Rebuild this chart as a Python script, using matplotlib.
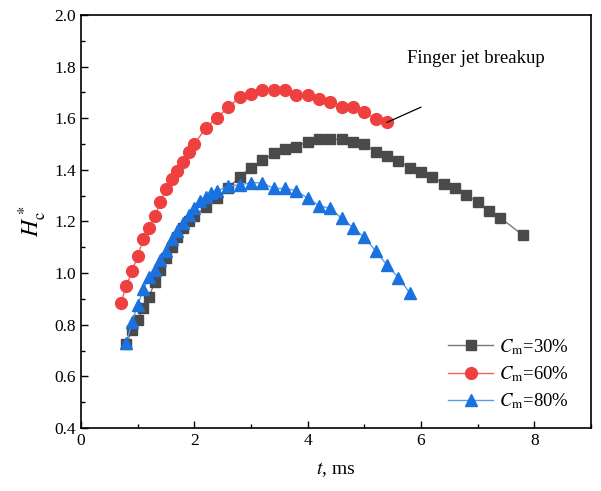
import matplotlib.pyplot as plt
from matplotlib.ticker import MultipleLocator

plt.rcParams['font.family'] = ['Liberation Serif', 'DejaVu Serif']
plt.rcParams['mathtext.fontset'] = 'stix'

# Cm = 30 %
t_30 = [0.8, 0.9, 1.0, 1.1, 1.2, 1.3, 1.4, 1.5, 1.6, 1.7, 1.8, 1.9,
        2.0, 2.2, 2.4, 2.6, 2.8, 3.0, 3.2, 3.4, 3.6, 3.8, 4.0, 4.2, 4.4, 4.6,
        4.8, 5.0, 5.2, 5.4, 5.6, 5.8, 6.0, 6.2, 6.4, 6.6, 6.8, 7.0, 7.2, 7.4,
        7.8]
h_30 = [0.725, 0.779, 0.820, 0.863, 0.908, 0.964, 1.014, 1.057, 1.100, 1.141, 1.175, 1.200,
        1.221, 1.255, 1.290, 1.330, 1.373, 1.408, 1.437, 1.464, 1.482, 1.490, 1.509, 1.518, 1.518, 1.518,
        1.509, 1.499, 1.470, 1.453, 1.435, 1.408, 1.393, 1.373, 1.346, 1.331, 1.303, 1.276, 1.241, 1.214,
        1.147]

# Cm = 60 %
t_60 = [0.7, 0.8, 0.9, 1.0, 1.1, 1.2, 1.3, 1.4, 1.5, 1.6, 1.7, 1.8, 1.9, 2.0,
        2.2, 2.4, 2.6, 2.8, 3.0, 3.2, 3.4, 3.6, 3.8, 4.0, 4.2, 4.4, 4.6, 4.8,
        5.0, 5.2, 5.4]
h_60 = [0.883, 0.950, 1.008, 1.066, 1.134, 1.173, 1.220, 1.275, 1.326, 1.363, 1.394, 1.431, 1.470, 1.499,
        1.563, 1.602, 1.642, 1.681, 1.693, 1.709, 1.709, 1.709, 1.690, 1.690, 1.674, 1.664, 1.642, 1.642,
        1.625, 1.596, 1.584]

# Cm = 80 %
t_80 = [0.8, 0.9, 1.0, 1.1, 1.2, 1.3, 1.4, 1.5, 1.6, 1.7, 1.8, 1.9, 2.0, 2.1, 2.2, 2.3, 2.4,
        2.6, 2.8, 3.0, 3.2, 3.4, 3.6, 3.8, 4.0, 4.2, 4.4, 4.6, 4.8, 5.0, 5.2, 5.4, 5.6, 5.8]
h_80 = [0.730, 0.811, 0.876, 0.937, 0.985, 1.014, 1.050, 1.087, 1.134, 1.162, 1.195, 1.225, 1.251, 1.280, 1.296, 1.309, 1.318,
        1.337, 1.342, 1.350, 1.350, 1.328, 1.328, 1.319, 1.290, 1.261, 1.251, 1.212, 1.176, 1.138, 1.086, 1.031, 0.983, 0.924]

fig = plt.figure(figsize=(6.01, 4.91), dpi=100)
ax = fig.add_axes([0.1348, 0.1283, 0.8486, 0.8412])

ax.plot(t_30, h_30, color='#7a7a7a', lw=1.0, marker='s', ms=7.5,
        mfc='#4a4a4a', mec='#4a4a4a', label=r'$C_\mathrm{m}$=30%')
ax.plot(t_60, h_60, color='#f06060', lw=1.0, marker='o', ms=8.5,
        mfc='#ef4040', mec='#ef4040', label=r'$C_\mathrm{m}$=60%')
ax.plot(t_80, h_80, color='#5a9cec', lw=1.0, marker='^', ms=8.5,
        mfc='#1a72e0', mec='#1a72e0', label=r'$C_\mathrm{m}$=80%')

# breakup marker
ax.annotate('', xy=(t_60[-1], h_60[-1]), xytext=(6.0, 1.643),
            arrowprops=dict(arrowstyle='-', color='black', lw=0.9,
                            shrinkA=0, shrinkB=0))
ax.text(6.97, 1.83, 'Finger jet breakup', fontsize=13.5, ha='center', va='center')

ax.set_xlim(0, 9)
ax.set_ylim(0.4, 2.0)
ax.xaxis.set_major_locator(MultipleLocator(2))
ax.xaxis.set_minor_locator(MultipleLocator(1))
ax.yaxis.set_major_locator(MultipleLocator(0.2))
ax.yaxis.set_minor_locator(MultipleLocator(0.1))
ax.set_xticks([0, 2, 4, 6, 8])
ax.tick_params(which='major', direction='in', length=5, width=1.0, labelsize=12.5)
ax.tick_params(which='minor', direction='in', length=3, width=1.0)
ax.yaxis.set_major_formatter(plt.FormatStrFormatter('%.1f'))
for s in ax.spines.values():
    s.set_linewidth(1.2)

ax.set_xlabel(r'$t$, ms', fontsize=14, labelpad=8)
ax.set_ylabel(r'$H_\mathrm{c}^*$', fontsize=17, labelpad=4)

ax.legend(loc='lower right', bbox_to_anchor=(0.99, 0.0), frameon=False,
          fontsize=13.5, handlelength=2.4, labelspacing=0.4, handletextpad=0.3)

fig.savefig('out.png', dpi=100)
